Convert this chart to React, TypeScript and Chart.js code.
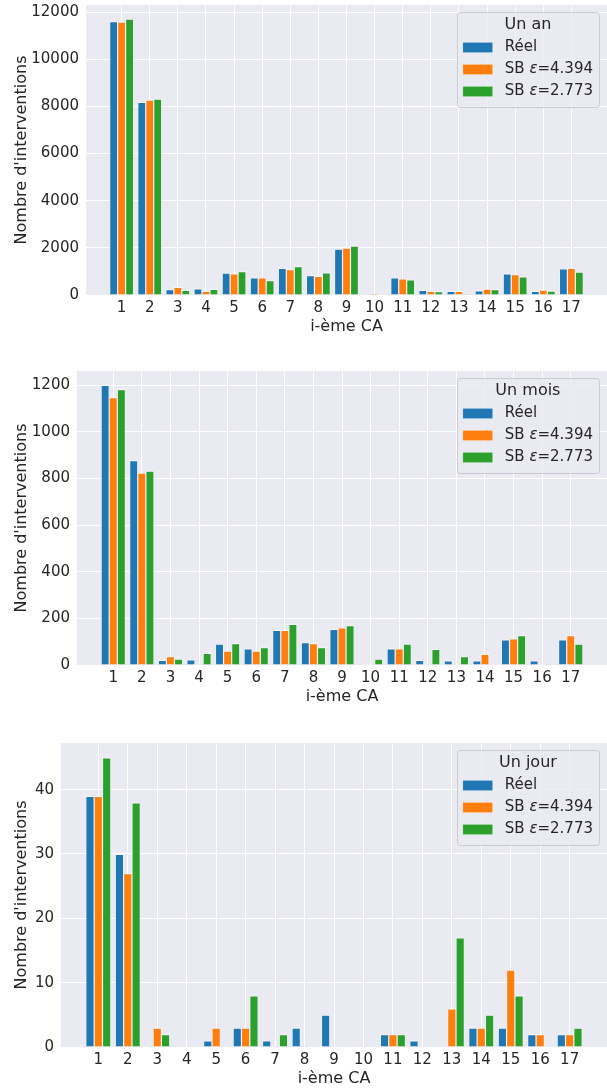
import React, { useEffect, useRef } from "react";
import { Chart, registerables } from "chart.js";

Chart.register(...registerables);

const categories = [1, 2, 3, 4, 5, 6, 7, 8, 9, 10, 11, 12, 13, 14, 15, 16, 17];
const seriesLabels = ["Réel", "SB ε=4.394", "SB ε=2.773"];
const seriesColors = ["#1f77b4", "#ff7f0e", "#2ca02c"];

const anReel = [11620, 8190, 240, 280, 940, 740, 1150, 840, 1965, 0, 740, 210, 170, 195, 910, 170, 1120];
const anSB4394 = [11590, 8290, 340, 170, 910, 740, 1095, 810, 2005, 55, 700, 170, 170, 265, 880, 225, 1150];
const anSB2773 = [11720, 8330, 212, 257, 1010, 628, 1225, 955, 2095, 0, 655, 157, 45, 240, 780, 180, 990];

const moisReel = [1200, 877, 21, 24, 91, 71, 150, 97, 154, 0, 71, 21, 19, 19, 109, 19, 109];
const moisSB4394 = [1148, 824, 37, 2, 61, 61, 150, 93, 161, 0, 71, 0, 0, 47, 114, 0, 127];
const moisSB2773 = [1182, 833, 27, 51, 93, 76, 176, 76, 170, 27, 91, 69, 37, 0, 127, 0, 91];

const jourReel = [39, 30, 0, 0, 1, 3, 1, 3, 5, 0, 2, 1, 0, 3, 3, 2, 2];
const jourSB4394 = [39, 27, 3, 0, 3, 3, 0, 0, 0, 0, 2, 0, 6, 3, 12, 2, 2];
const jourSB2773 = [45, 38, 2, 0, 0, 8, 2, 0, 0, 0, 2, 0, 17, 5, 8, 0, 3];

const anTicks = [0, 2000, 4000, 6000, 8000, 10000, 12000];
const moisTicks = [0, 200, 400, 600, 800, 1000, 1200];
const jourTicks = [0, 10, 20, 30, 40];

const xLabel = "i-ème CA";
const yLabel = "Nombre d'interventions";

const TEXT = "#262626";
const FAMILY = '"DejaVu Sans", sans-serif';
Chart.defaults.font.family = FAMILY;
Chart.defaults.color = TEXT;

type PanelProps = {
  title: string;
  series: number[][];
  yTicks: number[];
  top: number;
  height: number;
  areaLeft: number;
  areaTop: number;
};

function Panel({ title, series, yTicks, top, height, areaLeft, areaTop }: PanelProps) {
  const ref = useRef<HTMLCanvasElement | null>(null);

  useEffect(() => {
    const canvas = ref.current;
    if (!canvas) return;
    const xAxisHeight = 41;
    const all = series.reduce((acc, s) => acc.concat(s), [] as number[]);
    const yMax = Math.max(...all) * 1.05;
    const margin = 1.2675;

    const bgPlugin = {
      id: "bgFill",
      beforeDraw(chart: any) {
        const { ctx, chartArea: a } = chart;
        ctx.save();
        ctx.fillStyle = "#eaeaf2";
        ctx.fillRect(a.left, a.top, a.right - a.left, a.bottom - a.top);
        ctx.restore();
      },
    };

    const legendPlugin = {
      id: "boxLegend",
      afterDraw(chart: any) {
        const { ctx, chartArea: a } = chart;
        const fs = 15;
        const normal = `${fs}px ${FAMILY}`;
        const italic = `italic ${fs}px ${FAMILY}`;
        const measure = (label: string) => {
          const parts = label.split("ε");
          let w = 0;
          parts.forEach((p, i) => {
            ctx.font = normal;
            w += ctx.measureText(p).width;
            if (i < parts.length - 1) {
              ctx.font = italic;
              w += ctx.measureText("ε").width;
            }
          });
          return w;
        };
        ctx.save();
        const labels = chart.data.datasets.map((d: any) => d.label as string);
        const textW = Math.max(...labels.map(measure));
        ctx.font = `16px ${FAMILY}`;
        const titleW = ctx.measureText(title).width;
        const w = Math.max(6 + 30 + 12 + textW + 6, titleW + 12);
        const right = a.right - 8;
        const left = right - w;
        const bTop = a.top + 7;
        const h = 95;
        ctx.beginPath();
        (ctx as any).roundRect(Math.round(left) + 0.5, Math.round(bTop) + 0.5, Math.round(w), h, 3);
        ctx.fillStyle = "rgba(234,234,242,0.8)";
        ctx.fill();
        ctx.strokeStyle = "#cccccc";
        ctx.lineWidth = 1;
        ctx.stroke();

        ctx.fillStyle = TEXT;
        ctx.textBaseline = "middle";
        ctx.textAlign = "center";
        ctx.font = `16px ${FAMILY}`;
        ctx.fillText(title, left + w / 2, bTop + 13);

        ctx.textAlign = "left";
        labels.forEach((label: string, i: number) => {
          const y = bTop + 35.5 + i * 22;
          ctx.fillStyle = chart.data.datasets[i].backgroundColor;
          ctx.fillRect(left + 6, y - 5.25, 30, 10.5);
          ctx.strokeStyle = "rgba(255,255,255,0.7)";
          ctx.lineWidth = 0.6;
          ctx.strokeRect(left + 6, y - 5.25, 30, 10.5);
          ctx.fillStyle = TEXT;
          let x = left + 48;
          const parts = label.split("ε");
          parts.forEach((p, j) => {
            ctx.font = normal;
            ctx.fillText(p, x, y);
            x += ctx.measureText(p).width;
            if (j < parts.length - 1) {
              ctx.font = italic;
              ctx.fillText("ε", x, y);
              x += ctx.measureText("ε").width;
            }
          });
        });
        ctx.restore();
      },
    };

    const chart = new Chart(canvas, {
      type: "bar",
      data: {
        datasets: series.map((vals, i) => ({
          label: seriesLabels[i],
          data: categories.map((c, j) => ({ x: c, y: vals[j] })),
          backgroundColor: seriesColors[i],
          borderColor: "rgba(255,255,255,0.75)",
          borderWidth: { top: 1, left: 0.6, right: 0.6, bottom: 0 },
          borderSkipped: "start",
          categoryPercentage: 0.85,
          barPercentage: 1,
        })),
      },
      options: {
        responsive: false,
        animation: false,
        layout: { padding: { top: areaTop, left: 0, right: 0, bottom: 0 } },
        plugins: {
          legend: { display: false },
          tooltip: { enabled: false },
        },
        scales: {
          x: {
            type: "linear",
            min: categories[0] - margin,
            max: categories[categories.length - 1] + margin,
            offset: false,
            afterBuildTicks: (s: any) => {
              s.ticks = categories.map((v) => ({ value: v }));
            },
            afterFit: (s: any) => {
              s.height = xAxisHeight;
              s.paddingLeft = 0;
              s.paddingRight = 0;
            },
            ticks: {
              autoSkip: false,
              maxRotation: 0,
              padding: 4,
              color: TEXT,
              font: { size: 15, family: FAMILY },
              callback: (v: any) => String(v),
            },
            grid: { color: "#ffffff", lineWidth: 1, drawTicks: false, offset: false },
            border: { display: false },
            title: {
              display: true,
              text: xLabel,
              color: TEXT,
              font: { size: 16, family: FAMILY },
              padding: { top: 0, bottom: 0 },
            },
          },
          y: {
            min: 0,
            max: yMax,
            afterBuildTicks: (s: any) => {
              s.ticks = yTicks.map((v) => ({ value: v }));
            },
            afterFit: (s: any) => {
              s.width = areaLeft;
              s.paddingTop = 0;
              s.paddingBottom = 0;
            },
            ticks: {
              padding: 7,
              color: TEXT,
              font: { size: 15, family: FAMILY },
              callback: (v: any) => String(v),
            },
            grid: { color: "#ffffff", lineWidth: 1, drawTicks: false },
            border: { display: false },
            title: {
              display: true,
              text: yLabel,
              color: TEXT,
              font: { size: 16, family: FAMILY },
              padding: { top: 12, bottom: 0 },
            },
          },
        },
      } as any,
      plugins: [bgPlugin, legendPlugin],
    });
    return () => chart.destroy();
  }, []);

  return (
    <canvas
      ref={ref}
      width={607}
      height={height}
      style={{ position: "absolute", left: 0, top, width: 607, height }}
    />
  );
}

export default function App() {
  return (
    <div style={{ position: "absolute", left: 0, top: 0, width: 607, height: 1088, background: "#ffffff", overflow: "hidden" }}>
      <Panel title="Un an" series={[anReel, anSB4394, anSB2773]} yTicks={anTicks} top={0} height={336} areaLeft={86} areaTop={5} />
      <Panel title="Un mois" series={[moisReel, moisSB4394, moisSB2773]} yTicks={moisTicks} top={360} height={346} areaLeft={77} areaTop={11} />
      <Panel title="Un jour" series={[jourReel, jourSB4394, jourSB2773]} yTicks={jourTicks} top={730} height={358} areaLeft={61} areaTop={13} />
    </div>
  );
}
